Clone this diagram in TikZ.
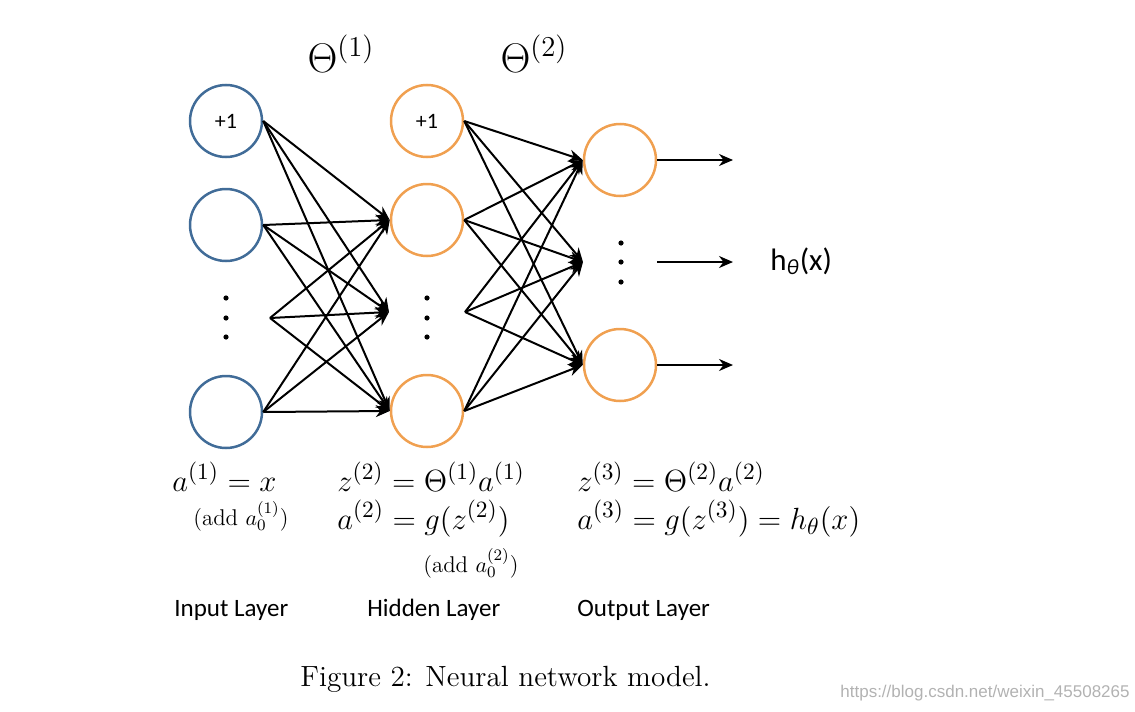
\documentclass[tikz,border=0pt]{standalone}
\usepackage{fontspec}
\usepackage{graphicx}
\newfontfamily\calib{Carlito}
\newfontfamily\wmfont{Liberation Sans}
\usetikzlibrary{arrows.meta}
\definecolor{inblue}{RGB}{65,108,152}
\definecolor{hidorange}{RGB}{240,160,80}
\newcommand{\eqbox}[1]{\scalebox{1.065}{#1}}
\begin{document}
\begin{tikzpicture}[x=0.5pt,y=-0.5pt,
 neuron/.style={circle, draw, line width=1.25pt, minimum size=36pt, inner sep=0pt},
 inneuron/.style={neuron, draw=inblue},
 hidneuron/.style={neuron, draw=hidorange},
 dotnode/.style={circle, fill=black, inner sep=0pt, minimum size=2.6pt},
 conn/.style={line width=1pt, -{Stealth[length=7pt,width=6pt]}},
 eq/.style={anchor=base west, inner sep=0pt, font=\fontsize{15.3}{18}\selectfont},
 small/.style={anchor=base west, inner sep=0pt, font=\fontsize{11.4}{13}\selectfont},
 lbl/.style={anchor=base west, inner sep=0pt, font=\calib\fontsize{12.5}{14}\selectfont},
 bias/.style={font=\calib\fontsize{11}{13}\selectfont},
 thetalbl/.style={anchor=base, inner sep=0pt, font=\fontsize{20}{22}\selectfont},
]
\useasboundingbox (0,0) rectangle (1135,712);

% input layer
\node[inneuron,bias] (i0) at (226,121) {+1};
\node[inneuron] (i1) at (226,225) {};
\node[inneuron] (i2) at (226,412) {};
\node[dotnode] (id1) at (226,298) {};
\node[dotnode] (id2) at (226,318) {};
\node[dotnode] (id3) at (226,337) {};
\coordinate (im) at (270,318);

% hidden layer
\node[hidneuron,bias] (h0) at (427,121) {+1};
\node[hidneuron] (h1) at (427,220) {};
\node[hidneuron] (h2) at (427,411) {};
\node[dotnode] (hd1) at (427,298) {};
\node[dotnode] (hd2) at (427,318) {};
\node[dotnode] (hd3) at (427,337) {};
\coordinate (hmi) at (389,312);
\coordinate (hmo) at (465,312);

% output layer
\node[hidneuron] (o1) at (620,160) {};
\node[hidneuron] (o2) at (620,365) {};
\node[dotnode] (od1) at (621,243) {};
\node[dotnode] (od2) at (621,262) {};
\node[dotnode] (od3) at (621,282) {};
\coordinate (omi) at (583,262);
\coordinate (omo) at (657,262);
\coordinate (oe1) at (733,160);
\coordinate (oe2) at (733,262);
\coordinate (oe3) at (733,365);

% connections input -> hidden
\foreach \s in {i0.east,i1.east,im,i2.east}
  \foreach \t in {h1.west,hmi,h2.west}
    \draw[conn] (\s) -- (\t);
% hidden -> output
\foreach \s in {h0.east,h1.east,hmo,h2.east}
  \foreach \t in {o1.west,omi,o2.west}
    \draw[conn] (\s) -- (\t);
% outputs
\draw[conn] (o1.east) -- (oe1);
\draw[conn] (omo) -- (oe2);
\draw[conn] (o2.east) -- (oe3);

\node[anchor=base west, inner sep=0pt, font=\calib\fontsize{15.5}{18}\selectfont] (hx) at (770,270) {h\textsubscript{\itshape θ}(x)};

% theta labels
\node[thetalbl] (t1) at (341,72) {$\Theta^{(1)}$};
\node[thetalbl] (t2) at (534,72) {$\Theta^{(2)}$};

% equations
\node[eq] (e1) at (172,491) {\eqbox{$a^{(1)} = x$}};
\node[small] (e2) at (193,525) {(add $a_0^{(1)}$)};
\node[eq] (e3) at (337,491) {\eqbox{$z^{(2)} = \Theta^{(1)}a^{(1)}$}};
\node[eq] (e4) at (337,529) {\eqbox{$a^{(2)} = g(z^{(2)})$}};
\node[small] (e5) at (423,572) {(add $a_0^{(2)}$)};
\node[eq] (e6) at (577,491) {\eqbox{$z^{(3)} = \Theta^{(2)}a^{(2)}$}};
\node[eq] (e7) at (577,529) {\eqbox{$a^{(3)} = g(z^{(3)}) = h_\theta(x)$}};

% layer labels
\node[lbl] (l1) at (174,616) {Input Layer};
\node[lbl] (l2) at (367,616) {Hidden Layer};
\node[lbl] (l3) at (577,616) {Output Layer};

% caption
\node[anchor=base west, inner sep=0pt, font=\fontsize{14.6}{17}\selectfont] (cap) at (300,686) {Figure 2: Neural network model.};
\node[anchor=base west, inner sep=0pt, text=black!30, font=\wmfont\fontsize{8.5}{10}\selectfont] (wm) at (840,697) {https://blog.csdn.net/weixin\_45508265};
\end{tikzpicture}
\end{document}
